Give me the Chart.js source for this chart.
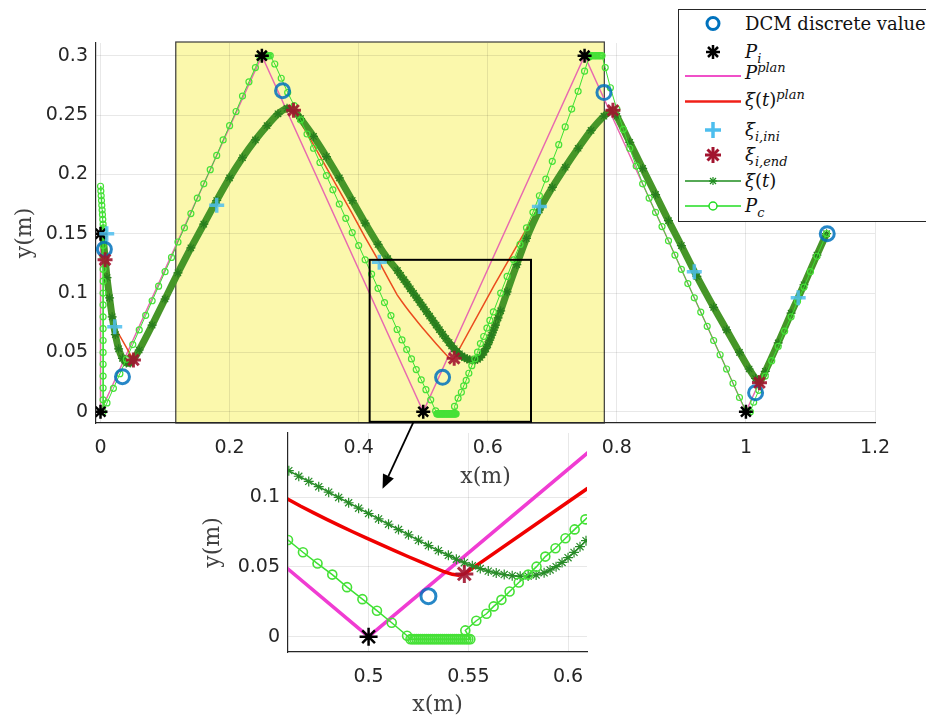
<!DOCTYPE html>
<html>
<head>
<meta charset="utf-8">
<script src="https://cdn.jsdelivr.net/npm/chart.js@4.4.0/dist/chart.umd.min.js"></script>
<style>
  html, body { margin: 0; padding: 0; background: #fff; overflow: hidden; }
  #wrap { position: relative; width: 926px; height: 719px; }
  #wrap canvas { position: absolute; left: 0; top: 0; }
  #legend {
    position: absolute; left: 678px; top: 9px; width: 270px; height: 211px;
    border: 1px solid #262626; background: #fff; z-index: 5;
    font-family: 'DejaVu Serif', serif; font-size: 18px; color: #111;
  }
  #legend svg { position: absolute; left: 0; top: 0; }
  #legend .row { position: absolute; left: 66px; white-space: nowrap; line-height: 20px; transform: translateY(-50%); }
  #legend sub, #legend sup { font-size: 0.72em; line-height: 0; }
  #legend sub { vertical-align: -0.35em; }
  #legend sup { vertical-align: 0.55em; }
</style>
</head>
<body>
<div id="wrap">
  <canvas id="main" width="926" height="719"></canvas>
  <canvas id="inset" width="926" height="719"></canvas>
  <div id="legend">
    <svg width="270" height="211">
      <circle cx="34" cy="13.5" r="6" fill="none" stroke="#0072BD" stroke-width="3"/>
      <g stroke="#000" stroke-width="2.5">
        <line x1="34" y1="35" x2="34" y2="49"/><line x1="27" y1="42" x2="41" y2="42"/>
        <line x1="29" y1="37" x2="39" y2="47"/><line x1="29" y1="47" x2="39" y2="37"/>
      </g>
      <line x1="6" y1="66" x2="62" y2="66" stroke="#f050c8" stroke-width="2"/>
      <line x1="6" y1="91.5" x2="62" y2="91.5" stroke="#f02018" stroke-width="2.5"/>
      <g stroke="#4DBEEE" stroke-width="3.5">
        <line x1="34" y1="112" x2="34" y2="128"/><line x1="26" y1="120" x2="42" y2="120"/>
      </g>
      <g stroke="#A2142F" stroke-width="3">
        <line x1="34" y1="137" x2="34" y2="153"/><line x1="26" y1="145" x2="42" y2="145"/>
        <line x1="28.5" y1="139.5" x2="39.5" y2="150.5"/><line x1="28.5" y1="150.5" x2="39.5" y2="139.5"/>
      </g>
      <line x1="6" y1="171" x2="62" y2="171" stroke="#1e8c1e" stroke-width="1.5"/>
      <g stroke="#1e8c1e" stroke-width="1.2">
        <line x1="34" y1="167" x2="34" y2="175"/><line x1="30" y1="171" x2="38" y2="171"/>
        <line x1="31" y1="168" x2="37" y2="174"/><line x1="31" y1="174" x2="37" y2="168"/>
      </g>
      <line x1="6" y1="196" x2="62" y2="196" stroke="#22dd22" stroke-width="1.5"/>
      <circle cx="34" cy="196" r="4" fill="#fff" stroke="#22dd22" stroke-width="1.5"/>
    </svg>
    <div class="row" style="top:13.5px">DCM discrete value</div>
    <div class="row" style="top:42px"><i>P</i><sub><i>i</i></sub></div>
    <div class="row" style="top:63px"><i>P</i><sup><i>plan</i></sup></div>
    <div class="row" style="top:90px"><i>ξ</i>(<i>t</i>)<sup><i>plan</i></sup></div>
    <div class="row" style="top:120px"><i>ξ</i><sub><i>i,ini</i></sub></div>
    <div class="row" style="top:145px"><i>ξ</i><sub><i>i,end</i></sub></div>
    <div class="row" style="top:171px"><i>ξ</i>(<i>t</i>)</div>
    <div class="row" style="top:196px"><i>P</i><sub><i>c</i></sub></div>
  </div>
</div>
<script>
// DCM discrete values
var dcmX = [0.006, 0.034, 0.282, 0.530, 0.780, 1.015, 1.126];
var dcmY = [0.137, 0.0295, 0.2705, 0.029, 0.269, 0.016, 0.150];

// footsteps P_i
var stepX = [0, 0, 0.25, 0.5, 0.75, 1.0];
var stepY = [0.15, 0, 0.3, 0, 0.3, 0];

// planned CoP path P^plan
var pplanX = [0, 0, 0.25, 0.5, 0.75, 1.0, 1.125];
var pplanY = [0.15, 0, 0.3, 0, 0.3, 0, 0.15];

// xi_ini / xi_end per step
var iniX = [0.0096, 0.022, 0.180, 0.432, 0.680, 0.920, 1.081];
var iniY = [0.150, 0.0716, 0.174, 0.126, 0.173, 0.118, 0.096];
var endX = [0.007, 0.051, 0.299, 0.548, 0.794, 1.021];
var endY = [0.128, 0.0436, 0.254, 0.045, 0.254, 0.0245];

// planned DCM xi(t)^plan
var planX = [0.0096, 0.007, 0.022, 0.051, 0.10, 0.14, 0.18, 0.22, 0.258, 0.28, 0.299,
  0.33, 0.36, 0.39, 0.41, 0.432, 0.446, 0.4596, 0.466, 0.4725, 0.479, 0.4855, 0.492, 0.499, 0.506, 0.513, 0.520, 0.527, 0.533, 0.538, 0.542, 0.545, 0.548,
  0.6095, 0.68, 0.72, 0.76, 0.794, 0.86, 0.92, 0.97, 1.021, 1.081, 1.125];
var planY = [0.150, 0.128, 0.0716, 0.0436, 0.095, 0.138, 0.176, 0.214, 0.241, 0.252, 0.254,
  0.225, 0.196, 0.167, 0.147, 0.126, 0.112, 0.0985, 0.0935, 0.0887, 0.0841, 0.0796, 0.0752, 0.0706, 0.0661, 0.0617, 0.0573, 0.0530, 0.0494, 0.0465, 0.0447, 0.0441, 0.045,
  0.106, 0.173, 0.208, 0.236, 0.254, 0.184, 0.118, 0.067, 0.0245, 0.096, 0.150];

// measured DCM xi(t)
var xiX = [0.004, 0.007, 0.010, 0.014, 0.018, 0.023, 0.028, 0.034, 0.040, 0.046, 0.051, 0.06, 0.08, 0.10, 0.12, 0.14, 0.16, 0.18, 0.20, 0.22, 0.24, 0.258, 0.275, 0.289, 0.299, 0.31, 0.33, 0.35, 0.37, 0.39, 0.41, 0.43, 0.445,
  0.460, 0.465, 0.470, 0.475, 0.480, 0.485, 0.490, 0.495, 0.500, 0.505, 0.510, 0.515, 0.520, 0.525, 0.530, 0.535, 0.540, 0.544, 0.548, 0.552, 0.556, 0.560, 0.564, 0.568, 0.572, 0.576, 0.580, 0.584, 0.588, 0.591, 0.594, 0.597, 0.600, 0.603, 0.606, 0.609, 0.612, 0.616,
  0.62, 0.63, 0.645, 0.66, 0.68, 0.70, 0.72, 0.74, 0.76, 0.78, 0.794, 0.80, 0.82, 0.84, 0.86, 0.88, 0.90, 0.924, 0.95, 0.97, 0.99, 1.005, 1.015, 1.021, 1.03, 1.05, 1.07, 1.09, 1.11, 1.125];
var xiY = [0.148, 0.130, 0.113, 0.096, 0.080, 0.065, 0.053, 0.045, 0.041, 0.041, 0.044, 0.052, 0.073, 0.095, 0.117, 0.138, 0.158, 0.178, 0.197, 0.214, 0.229, 0.241, 0.251, 0.2557, 0.2545, 0.247, 0.232, 0.215, 0.197, 0.178, 0.159, 0.141, 0.129,
  0.119, 0.115, 0.1113, 0.1075, 0.1036, 0.0998, 0.096, 0.0921, 0.0883, 0.0844, 0.0806, 0.0768, 0.073, 0.0691, 0.0653, 0.0617, 0.0583, 0.0555, 0.053, 0.0508, 0.0488, 0.047, 0.0456, 0.0445, 0.0437, 0.0433, 0.0434, 0.0442, 0.0458, 0.0478, 0.0502, 0.0532, 0.0566, 0.0604, 0.0645, 0.0688, 0.073, 0.079,
  0.085, 0.101, 0.124, 0.146, 0.170, 0.189, 0.206, 0.222, 0.237, 0.249, 0.254, 0.249, 0.227, 0.205, 0.183, 0.161, 0.140, 0.114, 0.088, 0.069, 0.050, 0.036, 0.028, 0.0245, 0.034, 0.058, 0.083, 0.107, 0.132, 0.150];

// CoP P_c
var pcX = [0.000, 0.0005, 0.001, 0.0015, 0.002, 0.0025, 0.003, 0.0035, 0.004, 0.0045, 0.005,
  0.004, 0.004, 0.004, 0.004, 0.004, 0.004, 0.004, 0.004, 0.004, 0.004, 0.004, 0.004, 0.004, 0.004, 0.004,
  0.01, 0.02, 0.03, 0.04, 0.05, 0.06, 0.07, 0.08, 0.09, 0.10, 0.11, 0.12, 0.13, 0.14, 0.15, 0.16, 0.17, 0.18, 0.19, 0.20, 0.21, 0.22, 0.23, 0.24, 0.247,
  0.249, 0.251, 0.253, 0.255, 0.257, 0.259, 0.261, 0.263,
  0.27, 0.28, 0.29, 0.30, 0.31, 0.32, 0.33, 0.34, 0.35, 0.36, 0.37, 0.38, 0.39, 0.40, 0.41, 0.42, 0.43, 0.44, 0.45,
  0.4596, 0.4671, 0.4744, 0.4818, 0.4892, 0.4969, 0.5042, 0.5116, 0.5193,
  0.521, 0.522, 0.523, 0.524, 0.525, 0.526, 0.527, 0.528, 0.529, 0.530, 0.531, 0.532, 0.533, 0.534, 0.535, 0.536, 0.537, 0.538, 0.539, 0.540, 0.541, 0.542, 0.543, 0.544, 0.545, 0.546, 0.547, 0.548, 0.549, 0.550, 0.551,
  0.5485, 0.554, 0.5591, 0.5627, 0.5666, 0.5707, 0.5753, 0.580, 0.5842, 0.5886, 0.5937, 0.5987, 0.6033, 0.6087,
  0.62, 0.63, 0.64, 0.65, 0.66, 0.67, 0.68, 0.69, 0.70, 0.71, 0.72, 0.73, 0.74, 0.75, 0.757,
  0.759, 0.761, 0.763, 0.765, 0.767, 0.769, 0.771, 0.773, 0.775, 0.777,
  0.782, 0.79, 0.80, 0.81, 0.82, 0.83, 0.84, 0.85, 0.86, 0.87, 0.88, 0.89, 0.90, 0.91, 0.92, 0.93, 0.94, 0.95, 0.96, 0.97, 0.98, 0.99, 1.0, 1.003, 1.007,
  1.012, 1.02, 1.03, 1.04, 1.05, 1.06, 1.07, 1.08, 1.09, 1.10, 1.11, 1.125];
var pcY = [0.190, 0.186, 0.182, 0.178, 0.174, 0.170, 0.166, 0.162, 0.158, 0.155, 0.152,
  0.14, 0.13, 0.12, 0.11, 0.10, 0.09, 0.08, 0.07, 0.06, 0.05, 0.04, 0.03, 0.02, 0.01, 0.0,
  0.0074, 0.0197, 0.032, 0.0443, 0.0566, 0.0689, 0.0812, 0.0935, 0.1058, 0.118, 0.130, 0.143, 0.155, 0.167, 0.180, 0.192, 0.204, 0.216, 0.229, 0.241, 0.253, 0.266, 0.278, 0.290, 0.299,
  0.3, 0.3, 0.3, 0.3, 0.3, 0.3, 0.3, 0.3,
  0.293, 0.281, 0.269, 0.258, 0.246, 0.234, 0.222, 0.210, 0.199, 0.187, 0.175, 0.163, 0.151, 0.140, 0.128, 0.116, 0.104, 0.092, 0.081,
  0.0693, 0.0605, 0.0524, 0.0445, 0.0355, 0.0269, 0.0186, 0.010, 0.0007,
  -0.0018, -0.0018, -0.0018, -0.0018, -0.0018, -0.0018, -0.0018, -0.0018, -0.0018, -0.0018, -0.0018, -0.0018, -0.0018, -0.0018, -0.0018, -0.0018,
  -0.0018, -0.0018, -0.0018, -0.0018, -0.0018, -0.0018, -0.0018, -0.0018, -0.0018, -0.0018, -0.0018, -0.0018, -0.0018, -0.0018, -0.0018,
  0.0045, 0.0114, 0.0164, 0.0217, 0.0264, 0.0324, 0.0388, 0.0445, 0.0502, 0.0574, 0.0634, 0.0705, 0.0769, 0.0841,
  0.100, 0.114, 0.128, 0.141, 0.155, 0.168, 0.182, 0.196, 0.211, 0.225, 0.240, 0.255, 0.270, 0.287, 0.299,
  0.3, 0.3, 0.3, 0.3, 0.3, 0.3, 0.3, 0.3, 0.3, 0.3,
  0.290, 0.273, 0.255, 0.238, 0.222, 0.207, 0.192, 0.180, 0.168, 0.156, 0.144, 0.132, 0.120, 0.108, 0.096, 0.084, 0.072, 0.060, 0.048, 0.036, 0.024, 0.012, 0.001, 0.0, 0.0,
  0.008, 0.018, 0.030, 0.043, 0.055, 0.068, 0.080, 0.093, 0.105, 0.118, 0.131, 0.150];

// highlighted span, zoom window and arrow ends (data units)
var shadeX = [0.1166, 0.7806];
var zoomX = [0.417, 0.667];
var zoomY = [-0.0085, 0.128];
var arrowFrom = [0.485, -0.0085];
var arrowTo = [0.507, 0.106];

function pts(xs, ys) {
  return xs.map(function(x, i) { return {x: x, y: ys[i]}; });
}

function fmt(v) {
  return String(Number(v.toFixed(3)));
}

function makeSets(big) {
  return [
    { data: pts(endX, endY), pointStyle: 'star', pointRadius: big ? 9 : 7.5, borderColor: 'rgba(162,20,47,0.9)', borderWidth: 3, showLine: false },
    { data: pts(iniX, iniY), pointStyle: 'cross', pointRadius: 7.5, borderColor: 'rgba(77,190,238,0.85)', borderWidth: 3.5, showLine: false },
    { data: pts(stepX, stepY), pointStyle: 'star', pointRadius: big ? 9 : 7, borderColor: '#000', borderWidth: 2.5, showLine: false },
    { data: pts(dcmX, dcmY), pointStyle: 'circle', pointRadius: big ? 7.5 : 7, borderColor: 'rgba(0,114,189,0.85)', backgroundColor: 'transparent', borderWidth: 3, showLine: false },
    { data: pts(pcX, pcY), showLine: true, tension: 0, borderColor: 'rgb(60,225,50)', borderWidth: big ? 1.5 : 1, pointStyle: 'circle', pointRadius: big ? 4.5 : 3, pointBorderColor: 'rgb(70,225,55)', pointBackgroundColor: 'transparent', pointBorderWidth: big ? 1.6 : 1.2 },
    { data: pts(xiX, xiY), showLine: true, tension: 0.2, borderColor: big ? 'rgb(40,140,40)' : 'rgb(70,150,40)', borderWidth: big ? 1.5 : 7, pointStyle: 'star', pointRadius: big ? 5 : 4.5, pointBorderColor: big ? 'rgb(40,140,40)' : 'rgb(40,125,30)', pointBorderWidth: 1.2 },
    { data: pts(planX, planY), showLine: true, tension: 0, borderColor: big ? 'rgb(240,0,0)' : 'rgb(235,75,30)', borderWidth: big ? 3.5 : 1.5, pointRadius: 0 },
    { data: pts(pplanX, pplanY), showLine: true, tension: 0, borderColor: big ? 'rgb(240,60,210)' : 'rgb(232,105,175)', borderWidth: big ? 3.5 : 1.5, pointRadius: 0 }
  ];
}

function axis(min, max, step, titleText, horiz, titlePad, size) {
  return {
    type: 'linear', min: min, max: max,
    afterFit: function(s) { if (horiz) s.height = size; else s.width = size; },
    grid: { color: 'rgba(0,0,0,0.09)', drawTicks: false },
    border: { display: true, color: '#262626', width: 1.2 },
    ticks: { stepSize: step, includeBounds: false, autoSkip: false, maxRotation: 0, padding: horiz ? 14 : 8,
      color: '#262626', font: { family: 'DejaVu Sans', size: 19 }, callback: fmt },
    title: { display: true, text: titleText, color: '#404040', padding: titlePad,
      font: { family: 'DejaVu Serif', size: 22 } }
  };
}

var shade = {
  id: 'shade',
  beforeDraw: function(chart) {
    var c = chart.ctx, a = chart.chartArea, sx = chart.scales.x;
    var l = sx.getPixelForValue(shadeX[0]), r = sx.getPixelForValue(shadeX[1]);
    c.save();
    c.fillStyle = 'rgb(251,248,172)';
    c.fillRect(l, a.top - 1, r - l, a.bottom - a.top + 1);
    c.strokeStyle = '#3a3a3a';
    c.lineWidth = 1.2;
    c.strokeRect(l, a.top - 1, r - l, a.bottom - a.top + 1);
    c.restore();
  },
  afterDatasetsDraw: function(chart) {
    var c = chart.ctx, sx = chart.scales.x, sy = chart.scales.y;
    var l = sx.getPixelForValue(zoomX[0]), r = sx.getPixelForValue(zoomX[1]);
    var t = sy.getPixelForValue(zoomY[1]), b = sy.getPixelForValue(zoomY[0]);
    c.save();
    c.strokeStyle = '#000';
    c.lineWidth = 2;
    c.strokeRect(l, t, r - l, b - t);
    c.restore();
  }
};

var mainChart = new Chart(document.getElementById('main'), {
  type: 'scatter',
  data: { datasets: makeSets(false) },
  options: {
    responsive: false, animation: false,
    layout: { padding: { left: 0, top: 43, right: 51, bottom: 229 } },
    plugins: { legend: { display: false }, tooltip: { enabled: false } },
    scales: {
      x: axis(-0.007, 1.2, 0.2, 'x(m)', true, 0, 67),
      y: axis(-0.0095, 0.3107, 0.05, 'y(m)', false, { top: 12, bottom: 0 }, 96)
    }
  },
  plugins: [shade]
});

var arrow = {
  id: 'arrow',
  afterDraw: function(chart) {
    var c = chart.ctx;
    var x0 = mainChart.scales.x.getPixelForValue(arrowFrom[0]);
    var y0 = mainChart.scales.y.getPixelForValue(arrowFrom[1]);
    var x1 = chart.scales.x.getPixelForValue(arrowTo[0]);
    var y1 = chart.scales.y.getPixelForValue(arrowTo[1]);
    var ang = Math.atan2(y1 - y0, x1 - x0), hl = 14, hw = 6;
    var bx = x1 - hl * Math.cos(ang), by = y1 - hl * Math.sin(ang);
    c.save();
    c.strokeStyle = '#000';
    c.fillStyle = '#000';
    c.lineWidth = 1.8;
    c.beginPath();
    c.moveTo(x0, y0);
    c.lineTo(bx, by);
    c.stroke();
    c.beginPath();
    c.moveTo(x1, y1);
    c.lineTo(bx + hw * Math.sin(ang), by - hw * Math.cos(ang));
    c.lineTo(bx - hw * Math.sin(ang), by + hw * Math.cos(ang));
    c.closePath();
    c.fill();
    c.restore();
  }
};

new Chart(document.getElementById('inset'), {
  type: 'scatter',
  data: { datasets: makeSets(true) },
  options: {
    responsive: false, animation: false,
    layout: { padding: { left: 200, top: 433, right: 339, bottom: 1 } },
    plugins: { legend: { display: false }, tooltip: { enabled: false } },
    scales: {
      x: axis(0.4596, 0.6095, 0.05, 'x(m)', true, 0, 66),
      y: axis(-0.011, 0.146, 0.05, 'y(m)', false, 0, 88)
    }
  },
  plugins: [arrow]
});
</script>
</body>
</html>
